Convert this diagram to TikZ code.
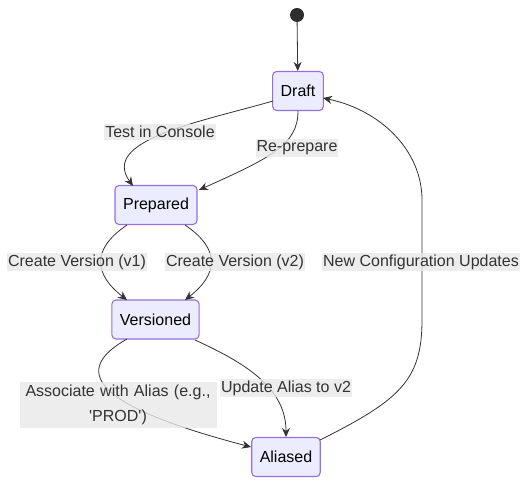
\documentclass[tikz,border=0pt]{standalone}
\usepackage{fontspec}
\setmainfont{Liberation Sans}
\usetikzlibrary{arrows.meta}
\definecolor{nodefill}{HTML}{ECECFF}
\definecolor{nodeline}{HTML}{9370DB}
\definecolor{edgecol}{HTML}{333333}
\definecolor{lblbg}{HTML}{E8E8E8}
\begin{document}
\begin{tikzpicture}[x=1pt,y=-1pt,
  state/.style={draw=nodeline, fill=nodefill, line width=1.1pt, rounded corners=4pt,
    minimum height=39pt, inner xsep=8pt, font=\fontsize{16}{19}\selectfont, text=black},
  lbl/.style={fill=lblbg, fill opacity=0.8, text opacity=1, text=edgecol, inner xsep=1pt, inner ysep=2pt,
    font=\fontsize{16}{19}\selectfont},
  edge/.style={draw=edgecol, line width=0.8pt, -{Stealth[length=9pt,width=8pt]}},
]
\useasboundingbox (0,0) rectangle (527,486);
\node[circle, fill=edgecol!90!black, minimum size=14pt, inner sep=0pt] (start) at (297,15) {};
\node[state, minimum width=50pt] (draft) at (298,91) {Draft};
\node[state, minimum width=82pt] (prep) at (156,205) {Prepared};
\node[state, minimum width=87pt] (vers) at (155.5,319.5) {Versioned};
\node[state, minimum width=68pt] (alias) at (286,457) {Aliased};

\coordinate (d1) at (273,101);
\coordinate (d2) at (298,111);
\coordinate (d3) at (323,98);
\coordinate (p1) at (133,186);
\coordinate (p2) at (199,190);
\coordinate (p3) at (127,225);
\coordinate (p4) at (185,225);
\coordinate (v1) at (127,300);
\coordinate (v2) at (185,300);
\coordinate (v3) at (127,339);
\coordinate (v4) at (195,340);
\coordinate (a1) at (251,447);
\coordinate (a2) at (286,437);
\coordinate (a3) at (320,440);

\draw[edge] (start) -- (draft);
\draw[edge] (d1) .. controls (200,122) and (100,140) .. (p1);
\draw[edge] (d2) .. controls (298,145) and (270,158) .. (p2);
\draw[edge] (p3) .. controls (90,250) and (95,275) .. (v1);
\draw[edge] (p4) .. controls (222,250) and (217,275) .. (v2);
\draw[edge] (v3) .. controls (72,370) and (90,405) .. (a1);
\draw[edge] (v4) .. controls (250,365) and (286,390) .. (a2);
\draw[edge] (a3) .. controls (400,400) and (422,380) .. (422,320) -- (422,200) .. controls (422,150) and (380,110) .. (d3);

\node[lbl] (l1) at (160,132) {Test in Console};
\node[lbl] (l2) at (297,148) {Re-prepare};
\node[lbl] (l3) at (77,262) {Create Version (v1)};
\node[lbl] (l4) at (235,262) {Create Version (v2)};
\node[lbl] (l5) at (421,262) {New Configuration Updates};
\node[lbl, align=center, text width=195pt, inner ysep=3pt, font=\fontsize{16}{25}\selectfont] (l6) at (118,405) {Associate with Alias (e.g.,\\ \textquotesingle PROD\textquotesingle)};
\node[lbl] (l7) at (286,388) {Update Alias to v2};
\end{tikzpicture}
\end{document}
